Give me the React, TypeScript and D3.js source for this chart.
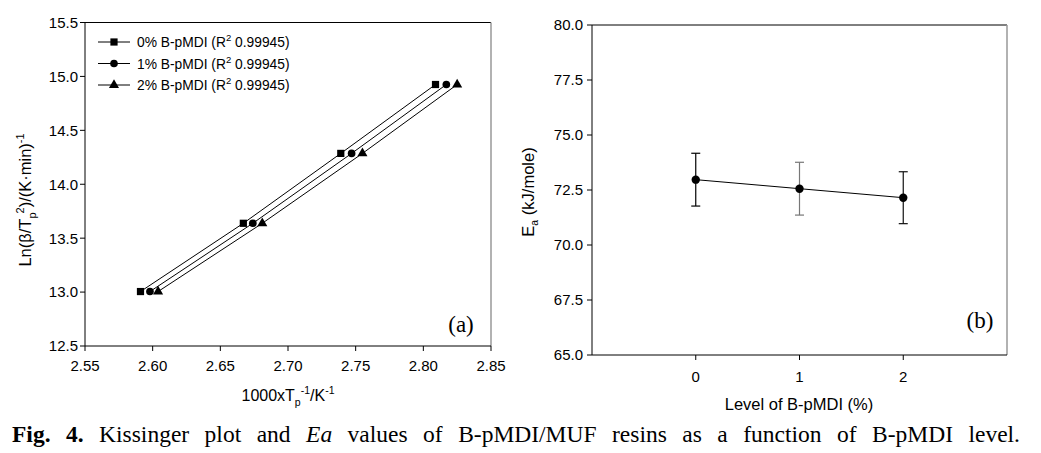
import React, { useLayoutEffect, useRef, useState } from 'react';
import * as d3 from 'd3';

// Kissinger plot (a)
const series0X = [2.591, 2.667, 2.739, 2.809];
const series1X = [2.598, 2.674, 2.747, 2.817];
const series2X = [2.604, 2.681, 2.755, 2.825];
const lnBetaY = [13.005, 13.638, 14.286, 14.925];
const seriesNames = ['0% B-pMDI', '1% B-pMDI', '2% B-pMDI'];
const seriesR2 = ['0.99945', '0.99945', '0.99945'];
const kissXTicks = [2.55, 2.6, 2.65, 2.7, 2.75, 2.8, 2.85];
const kissYTicks = [12.5, 13.0, 13.5, 14.0, 14.5, 15.0, 15.5];

// Ea vs level (b)
const levels = [0, 1, 2];
const eaValues = [72.97, 72.56, 72.15];
const eaErrors = [1.2, 1.2, 1.18];
const levelTicks = [0, 1, 2];
const eaYTicks = [65.0, 67.5, 70.0, 72.5, 75.0, 77.5, 80.0];

const SANS = '"Liberation Sans", Arial, sans-serif';
const SERIF = '"Liberation Serif", "Times New Roman", serif';
const markerShapes = [d3.symbolSquare, d3.symbolCircle, d3.symbolTriangle];
const markerSizes = [52, 46, 44];
const errColors = ['#000', '#777', '#111'];
const TICK_FS = 15;

const Caption: React.FC = () => {
  const ref = useRef<SVGTextElement>(null);
  const [ws, setWs] = useState(0);
  useLayoutEffect(() => {
    if (!ref.current) return;
    ref.current.setAttribute('word-spacing', '0');
    const natural = ref.current.getComputedTextLength();
    setWs((1008 - natural) / 15);
  }, []);
  return (
    <text ref={ref} x={12} y={442} fontFamily={SERIF} fontSize={23.5} wordSpacing={ws} fill="#000">
      <tspan fontWeight="bold">{'Fig. 4.'}</tspan>
      <tspan>{' Kissinger plot and '}</tspan>
      <tspan fontStyle="italic">{'Ea'}</tspan>
      <tspan>{' values of B-pMDI/MUF resins as a function of B-pMDI level.'}</tspan>
    </text>
  );
};

const KissingerPanel: React.FC = () => {
  const x = d3.scaleLinear().domain([2.55, 2.85]).range([85, 491]);
  const y = d3.scaleLinear().domain([12.5, 15.5]).range([346, 22.5]);
  const allX = [series0X, series1X, series2X];
  const line = d3.line<[number, number]>().x(d => x(d[0])).y(d => y(d[1]));
  return (
    <g fontFamily={SANS}>
      {/* frame */}
      <line x1={85} x2={491} y1={y(15.5)} y2={y(15.5)} stroke="#000" />
      <line x1={491} x2={491} y1={y(15.5)} y2={y(12.5)} stroke="#999" strokeWidth={1.5} />
      <line x1={85} x2={491} y1={y(12.5)} y2={y(12.5)} stroke="#000" />
      <line x1={85} x2={85} y1={y(15.5)} y2={y(12.5)} stroke="#000" />

      {kissXTicks.map(t => (
        <g key={`kx-${t}`} transform={`translate(${x(t)},${y(12.5)})`}>
          <line y2={5} stroke="#000" />
          <text y={25} textAnchor="middle" fontSize={TICK_FS}>{t.toFixed(2)}</text>
        </g>
      ))}
      {kissYTicks.map(t => (
        <g key={`ky-${t}`} transform={`translate(85,${y(t)})`}>
          <line x2={-5} stroke="#000" />
          <text x={-7} dy="0.36em" textAnchor="end" fontSize={TICK_FS}>{t.toFixed(1)}</text>
        </g>
      ))}

      {/* series */}
      {allX.map((xs, i) => {
        const pts = xs.map((v, j) => [v, lnBetaY[j]] as [number, number]);
        const sym = d3.symbol(markerShapes[i], markerSizes[i])();
        return (
          <g key={`s-${i}`}>
            <path d={line(pts) || ''} fill="none" stroke="#000" strokeWidth={1} />
            {pts.map((p, j) => (
              <path key={j} d={sym || ''} transform={`translate(${x(p[0])},${y(p[1])})`} fill="#000" />
            ))}
          </g>
        );
      })}

      {/* legend */}
      {seriesNames.map((name, i) => {
        const cy = 42 + i * 21.5;
        const sym = d3.symbol(markerShapes[i], markerSizes[i])();
        return (
          <g key={`lg-${i}`}>
            <line x1={98} x2={130} y1={cy} y2={cy} stroke="#000" />
            <path d={sym || ''} transform={`translate(114,${cy})`} fill="#000" />
            <text x={137} y={cy + 5} fontSize={13.8}>
              {`${name} (R`}
              <tspan fontSize={9.5} dy={-6}>2</tspan>
              <tspan dy={6}>{` ${seriesR2[i]})`}</tspan>
            </text>
          </g>
        );
      })}

      <text x={461} y={332} textAnchor="middle" fontFamily={SERIF} fontSize={23}>(a)</text>

      {/* axis titles */}
      <text x={288} y={401} textAnchor="middle" fontSize={16}>
        1000xT
        <tspan fontSize={10.5} dy={5}>p</tspan>
        <tspan fontSize={10.5} dy={-12}>-1</tspan>
        <tspan dy={7}>/K</tspan>
        <tspan fontSize={10.5} dy={-7}>-1</tspan>
      </text>
      <text transform="translate(31,200) rotate(-90)" textAnchor="middle" fontSize={16.5}>
        Ln(β/T
        <tspan fontSize={11} dy={5}>p</tspan>
        <tspan fontSize={11} dy={-12} dx={-1}>2</tspan>
        <tspan dy={7}>)/(K·min)</tspan>
        <tspan fontSize={11} dy={-7}>-1</tspan>
      </text>
    </g>
  );
};

const EaPanel: React.FC = () => {
  const x = d3.scaleLinear().domain([-1, 3]).range([592, 1007]);
  const y = d3.scaleLinear().domain([65, 80]).range([355, 25]);
  const line = d3.line<number>().x((_, i) => x(levels[i])).y(d => y(d));
  return (
    <g fontFamily={SANS}>
      <line x1={592} x2={1007} y1={y(80)} y2={y(80)} stroke="#000" />
      <line x1={1007} x2={1007} y1={y(80)} y2={y(65)} stroke="#999" strokeWidth={1.5} />
      <line x1={592} x2={1007} y1={y(65)} y2={y(65)} stroke="#000" />
      <line x1={592} x2={592} y1={y(80)} y2={y(65)} stroke="#000" />

      {levelTicks.map(t => (
        <g key={`lx-${t}`} transform={`translate(${x(t)},${y(65)})`}>
          <line y2={5} stroke="#000" />
          <text y={27} textAnchor="middle" fontSize={TICK_FS}>{t}</text>
        </g>
      ))}
      {eaYTicks.map(t => (
        <g key={`ey-${t}`} transform={`translate(592,${y(t)})`}>
          <line x2={-5} stroke="#000" />
          <text x={-9} dy="0.36em" textAnchor="end" fontSize={TICK_FS}>{t.toFixed(1)}</text>
        </g>
      ))}

      <path d={line(eaValues) || ''} fill="none" stroke="#000" strokeWidth={1} />
      {eaValues.map((v, i) => {
        const cx = x(levels[i]);
        const top = y(v + eaErrors[i]);
        const bot = y(v - eaErrors[i]);
        return (
          <g key={`e-${i}`} stroke={errColors[i]} strokeWidth={1.2}>
            <line x1={cx} x2={cx} y1={top} y2={bot} />
            <line x1={cx - 4.5} x2={cx + 4.5} y1={top} y2={top} />
            <line x1={cx - 4.5} x2={cx + 4.5} y1={bot} y2={bot} />
            <circle cx={cx} cy={y(v)} r={4.2} fill="#000" stroke="none" />
          </g>
        );
      })}

      <text x={980} y={328} textAnchor="middle" fontFamily={SERIF} fontSize={23}>(b)</text>

      <text x={799} y={410} textAnchor="middle" fontSize={16.5}>Level of B-pMDI (%)</text>
      <text transform="translate(534,192) rotate(-90)" textAnchor="middle" fontSize={16.5}>
        E
        <tspan fontSize={10.5} dy={4}>a</tspan>
        <tspan dy={-4}> (kJ/mole)</tspan>
      </text>
    </g>
  );
};

const App: React.FC = () => (
  <div style={{ position: 'absolute', left: 0, top: 0 }}>
    <svg width={1041} height={453} style={{ display: 'block', background: '#fff' }}>
      <KissingerPanel />
      <EaPanel />
      <Caption />
    </svg>
  </div>
);

export default App;
